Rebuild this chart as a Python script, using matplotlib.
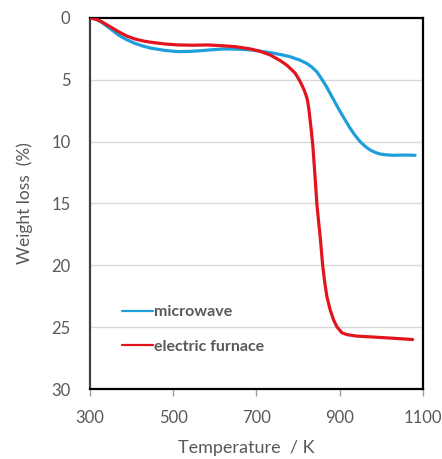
import matplotlib
matplotlib.use("Agg")
import matplotlib.pyplot as plt

plt.rcParams['font.family'] = ['Lato', 'DejaVu Sans']

# Thermogravimetric curves: temperature (K) vs weight loss (%)
mw_temp = [300, 315, 328, 348, 368, 388, 408, 428, 448, 480, 512, 540, 568,
           596, 624, 656, 689, 712, 737, 761, 781, 805, 821, 833, 845, 857,
           869, 881, 901, 925, 937, 949, 961, 973, 985, 997, 1013, 1029, 1055,
           1081]
mw_loss = [0, 0.1, 0.35, 0.85, 1.37, 1.75, 2.05, 2.28, 2.45, 2.62, 2.72, 2.7,
           2.64, 2.56, 2.5, 2.52, 2.59, 2.7, 2.82, 2.98, 3.13, 3.42, 3.68,
           3.97, 4.35, 4.95, 5.6, 6.35, 7.57, 8.92, 9.5, 10.0, 10.38, 10.67,
           10.87, 11.0, 11.07, 11.1, 11.08, 11.1]

ef_temp = [300, 315, 328, 348, 368, 388, 408, 428, 448, 480, 512, 548, 584,
           616, 649, 685, 709, 733, 757, 768, 777, 785, 793, 799, 805, 810,
           814.4, 818.5, 822.4, 826, 828.8, 832, 835.3, 838.5, 842, 845, 849,
           853, 859, 864, 869, 877, 885, 893, 905, 917, 940, 981, 1030, 1075]
ef_loss = [0, 0.1, 0.3, 0.7, 1.1, 1.45, 1.7, 1.86, 1.97, 2.1, 2.18, 2.2, 2.18,
           2.24, 2.32, 2.5, 2.7, 2.99, 3.45, 3.7, 3.94, 4.2, 4.47, 4.8, 5.15,
           5.5, 5.82, 6.2, 6.63, 7.4, 8.25, 9.2, 10.3, 11.8, 13.5, 15.0,
           16.4, 17.7, 20.0, 21.4, 22.5, 23.6, 24.4, 24.96, 25.45, 25.6,
           25.72, 25.8, 25.9, 26.0]

x_ticks = [300, 500, 700, 900, 1100]
y_ticks = [0, 5, 10, 15, 20, 25, 30]

text_color = '#595959'

fig = plt.figure(figsize=(4.42, 4.59), dpi=100)
ax = fig.add_axes([0.2036, 0.1525, 0.7534, 0.8083])

ax.plot(mw_temp, mw_loss, color='#1E9FDB', lw=2.3, label='microwave',
        solid_capstyle='round', solid_joinstyle='round', zorder=3)
ax.plot(ef_temp, ef_loss, color='#E3141E', lw=2.3, label='electric furnace',
        solid_capstyle='round', solid_joinstyle='round', zorder=4)

ax.set_xlim(300, 1100)
ax.set_ylim(30, 0)
ax.set_xticks(x_ticks)
ax.set_yticks(y_ticks)

for y in y_ticks[1:-1]:
    ax.axhline(y, color='#D9D9D9', lw=1.0, zorder=1)

for side in ['left', 'right', 'top', 'bottom']:
    ax.spines[side].set_color('black')
    ax.spines[side].set_linewidth(1.6)
ax.spines['left'].set_color('#404040')

ax.tick_params(axis='y', length=0, pad=14, labelsize=12, labelcolor=text_color)
ax.tick_params(axis='x', length=5, width=1, color='#A0A0A0', direction='out',
               pad=10, labelsize=12, labelcolor=text_color)

ax.set_xlabel('Temperature  / K', fontsize=13, color=text_color)
ax.xaxis.set_label_coords(0.47, -0.137)
ax.set_ylabel('Weight loss  (%)', fontsize=12.5, color=text_color)
ax.yaxis.set_label_coords(-0.17, 0.5)

leg = ax.legend(loc='upper left', bbox_to_anchor=(0.095, 0.226), frameon=False,
                borderpad=0, borderaxespad=0, handlelength=1.95,
                handletextpad=0.05, labelspacing=1.26,
                prop={'size': 11.5, 'weight': 'bold'})
for t in leg.get_texts():
    t.set_color(text_color)
for h in leg.get_lines():
    h.set_linewidth(1.6)

fig.savefig('out.png', dpi=100)
